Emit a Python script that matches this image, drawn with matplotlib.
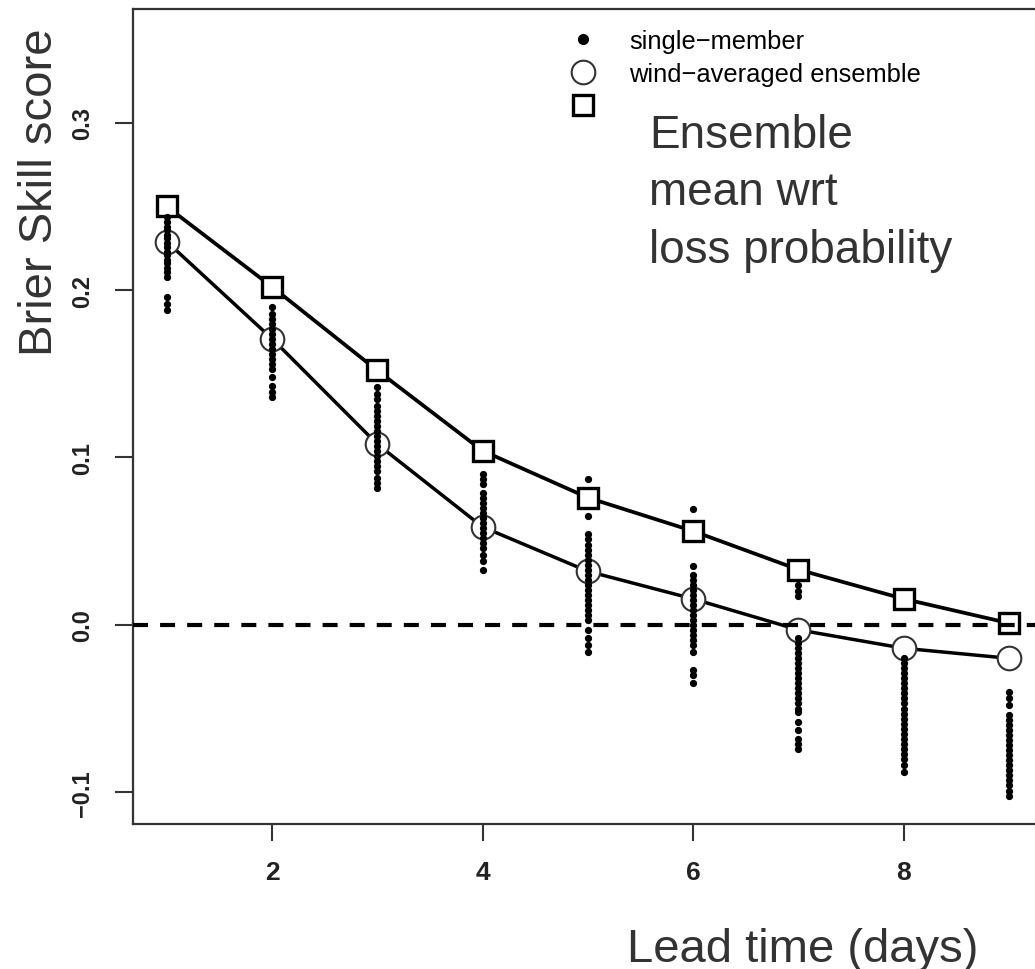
import matplotlib.pyplot as plt
from matplotlib.lines import Line2D

plt.rcParams['font.family'] = ['Liberation Sans', 'DejaVu Sans']

# lead time (days)
lead = [1, 2, 3, 4, 5, 6, 7, 8, 9]

# ensemble mean wrt loss probability (squares)
ens_loss = [0.250, 0.202, 0.152, 0.104, 0.076, 0.056, 0.033, 0.0155, 0.001]
# wind-averaged ensemble (circles)
wind_avg = [0.229, 0.171, 0.108, 0.0585, 0.032, 0.0155, -0.003, -0.014, -0.020]

# single-member scores, one list per lead time
single = {
    1: [0.244, 0.241, 0.238, 0.236, 0.233, 0.231, 0.228, 0.226, 0.223, 0.221,
        0.218, 0.216, 0.213, 0.211, 0.208, 0.196, 0.192, 0.188],
    2: [0.190, 0.186, 0.183, 0.180, 0.177, 0.174, 0.171, 0.168, 0.165, 0.162,
        0.159, 0.156, 0.153, 0.148, 0.143, 0.139, 0.136],
    3: [0.142, 0.138, 0.135, 0.131, 0.128, 0.125, 0.122, 0.119, 0.116, 0.113,
        0.110, 0.107, 0.104, 0.101, 0.098, 0.095, 0.092, 0.088, 0.085, 0.082],
    4: [0.090, 0.087, 0.084, 0.079, 0.076, 0.073, 0.070, 0.067, 0.064, 0.061,
        0.058, 0.055, 0.052, 0.049, 0.046, 0.042, 0.038, 0.033],
    5: [0.087, 0.065, 0.054, 0.051, 0.048, 0.045, 0.042, 0.039, 0.036, 0.033,
        0.030, 0.027, 0.024, 0.021, 0.018, 0.015, 0.012, 0.009, 0.006, 0.003,
        -0.003, -0.008, -0.012, -0.016],
    6: [0.069, 0.035, 0.030, 0.027, 0.024, 0.021, 0.018, 0.015, 0.012, 0.009,
        0.006, 0.003, 0.000, -0.003, -0.006, -0.009, -0.012, -0.016, -0.027,
        -0.030, -0.035],
    7: [0.024, 0.020, 0.017, -0.008, -0.011, -0.014, -0.017, -0.020, -0.023,
        -0.026, -0.029, -0.032, -0.035, -0.038, -0.041, -0.044, -0.047, -0.050,
        -0.052, -0.058, -0.063, -0.068, -0.071, -0.074],
    8: [-0.020, -0.023, -0.026, -0.029, -0.032, -0.035, -0.038, -0.041, -0.044,
        -0.047, -0.050, -0.053, -0.056, -0.059, -0.062, -0.065, -0.068, -0.071,
        -0.074, -0.077, -0.080, -0.084, -0.088],
    9: [-0.040, -0.044, -0.048, -0.054, -0.057, -0.060, -0.063, -0.066, -0.069,
        -0.072, -0.075, -0.078, -0.081, -0.084, -0.087, -0.090, -0.093, -0.096,
        -0.099, -0.102],
}

xticks = [2, 4, 6, 8]
yticks = [-0.1, 0.0, 0.1, 0.2, 0.3]
ytick_labels = ['\u22120.1', '0.0', '0.1', '0.2', '0.3']

fig = plt.figure(figsize=(10.35, 9.7), dpi=100)
# right spine falls just outside the picture, like the cropped original
ax = fig.add_axes([0.1285, 0.1495, 0.879, 0.8402])

# lines first, white-filled markers on top so the lines stop at the marker edge
ax.plot(lead, ens_loss, color='black', lw=2.7, zorder=2)
ax.plot(lead, wind_avg, color='black', lw=2.5, zorder=2)
ax.plot(lead, ens_loss, ls='none', marker='s', ms=15, mfc='white',
        mec='black', mew=2.4, zorder=3)
ax.plot(lead, wind_avg, ls='none', marker='o', ms=17, mfc='white',
        mec='#333333', mew=1.5, zorder=3)

ax.axhline(0, color='black', lw=3, ls=(0, (3.6, 2.9)), zorder=4)

for d, vals in single.items():
    ax.plot([d] * len(vals), vals, ls='none', marker='o', ms=4.2,
            color='black', zorder=5)

ax.set_xlim(0.68, 9.32)
ax.set_ylim(-0.119, 0.368)
ax.set_xticks(xticks)
ax.set_xticklabels([str(t) for t in xticks], fontsize=19, fontweight='bold',
                   color='#222222')
ax.set_yticks(yticks)
ax.set_yticklabels(ytick_labels, fontsize=17, fontweight='bold',
                   color='#222222', rotation=90, va='center')
ax.tick_params(axis='x', length=12, width=1.5, pad=14, color='#333333')
ax.tick_params(axis='y', length=13, width=1.5, pad=15, color='#333333')
for s in ax.spines.values():
    s.set_linewidth(1.6)
    s.set_color('#333333')

handles = [
    Line2D([], [], ls='none', marker='o', ms=7, color='black'),
    Line2D([], [], ls='none', marker='o', ms=17, mfc='none', mec='#333333',
           mew=1.5),
    Line2D([], [], ls='none', marker='s', ms=15, mfc='none', mec='black',
           mew=2.4),
]
labels = ['single\u2212member', 'wind\u2212averaged ensemble', '']
fig.legend(handles, labels, loc='upper left',
           bbox_to_anchor=(570 / 1035, 1 - 30 / 970),
           bbox_transform=fig.transFigure, frameon=False, fontsize=18.4,
           handlelength=1.0, handletextpad=1.32, labelspacing=0.36,
           borderpad=0, borderaxespad=0)

fig.text(649 / 1035, 1 - 263 / 970, 'Ensemble\nmean wrt\nloss probability',
         fontsize=33, color='#333333', ha='left', va='baseline',
         linespacing=1.4)

fig.text(62 / 1035, 1 - 192 / 970, 'Brier Skill score', fontsize=34,
         color='#333333', rotation=90, ha='right', va='center')
fig.text(803 / 1035, 1 - 962 / 970, 'Lead time (days)', fontsize=34,
         color='#333333', ha='center', va='baseline')

plt.savefig('out.png', dpi=100)
